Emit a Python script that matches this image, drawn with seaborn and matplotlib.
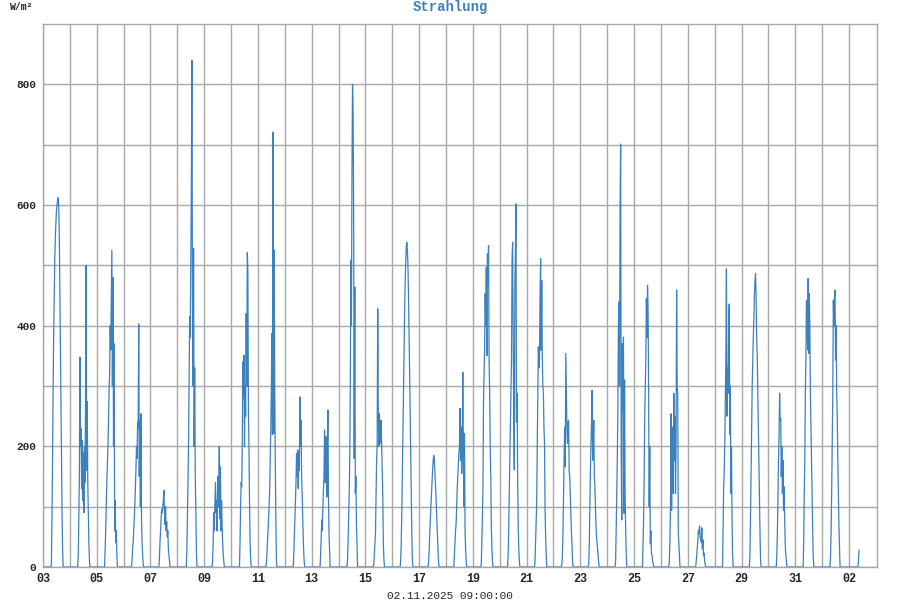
import pandas as pd
import matplotlib
matplotlib.use("Agg")
import matplotlib.pyplot as plt
import matplotlib.dates as mdates
import seaborn as sns

# radiation in W/m2, half-hourly readings starting 07:00 each day (0 during the night)
oct03 = [0, 5, 80, 170, 290, 380, 450, 510, 545, 570, 590, 600, 607, 612, 600, 560, 470, 380, 290, 190, 90, 30, 0]
oct04 = [0, 20, 90, 150, 348, 200, 230, 130, 210, 110, 190, 90, 200, 140, 270, 500, 160, 274, 140, 90, 40, 10, 0]
oct05 = [0, 30, 60, 100, 140, 170, 200, 240, 290, 320, 400, 360, 440, 525, 300, 480, 200, 370, 60, 110, 40, 60, 20, 0]
oct06 = [0, 10, 30, 40, 60, 80, 100, 130, 160, 200, 180, 240, 230, 403, 150, 243, 100, 254, 80, 40, 20, 5, 0]
oct07 = [0, 0, 15, 40, 60, 80, 95, 90, 100, 110, 127, 90, 70, 100, 60, 75, 50, 60, 30, 20, 10, 0]
oct08 = [0, 0, 0, 30, 80, 140, 200, 300, 415, 380, 500, 620, 840, 450, 300, 528, 200, 330, 150, 100, 30, 0]
oct09 = [0, 10, 40, 90, 60, 100, 140, 90, 110, 60, 150, 100, 130, 200, 80, 166, 60, 110, 70, 40, 20, 10, 0]
oct10 = [0, 0, 40, 100, 140, 133, 200, 340, 280, 351, 200, 300, 250, 420, 300, 521, 492, 260, 194, 105, 40, 12, 0]
oct11 = [0, 5, 20, 40, 60, 80, 100, 130, 180, 232, 300, 387, 220, 721, 221, 525, 300, 177, 80, 12, 0]
oct12 = [0, 0, 20, 50, 80, 110, 140, 188, 150, 194, 130, 190, 160, 282, 200, 243, 150, 122, 80, 45, 20, 5, 0]
oct13 = [0, 0, 20, 50, 78, 60, 100, 127, 150, 227, 140, 199, 216, 116, 200, 260, 120, 56, 30, 0]
oct14 = [0, 0, 10, 40, 80, 120, 177, 300, 508, 400, 652, 800, 757, 585, 180, 464, 122, 150, 70, 39, 0]
oct15 = [0, 5, 20, 40, 56, 120, 177, 200, 428, 260, 200, 254, 205, 220, 243, 205, 160, 122, 39, 15, 0]
oct16 = [0, 10, 40, 90, 150, 220, 290, 360, 420, 470, 505, 530, 538, 525, 500, 450, 390, 320, 250, 180, 110, 50, 10, 0]
oct17 = [0, 0, 0, 10, 30, 55, 80, 100, 120, 140, 160, 175, 185, 180, 160, 140, 120, 95, 70, 45, 20, 5, 0]
oct18 = [0, 20, 40, 60, 70, 100, 130, 150, 170, 188, 200, 263, 177, 232, 155, 200, 323, 199, 100, 221, 60, 30, 10, 0]
oct19 = [0, 5, 40, 80, 130, 276, 320, 365, 453, 400, 497, 350, 519, 470, 533, 343, 288, 200, 150, 67, 30, 10, 0]
oct20 = [0, 20, 60, 122, 180, 232, 280, 343, 508, 538, 398, 250, 161, 464, 520, 602, 240, 288, 150, 67, 30, 10, 0]
oct21 = [0, 10, 40, 70, 105, 200, 276, 365, 330, 343, 450, 511, 359, 475, 350, 300, 288, 230, 205, 94, 50, 20, 0]
oct22 = [0, 5, 20, 60, 122, 180, 232, 166, 354, 288, 230, 205, 240, 243, 160, 150, 120, 94, 60, 39, 10, 0]
oct23 = [0, 5, 40, 100, 160, 205, 238, 293, 177, 200, 243, 150, 133, 100, 67, 50, 39, 30, 15, 5, 0]
oct24 = [0, 10, 60, 122, 177, 260, 398, 439, 300, 597, 701, 188, 78, 370, 260, 381, 89, 310, 120, 60, 20, 0]
oct25 = [0, 0, 40, 78, 150, 250, 300, 343, 445, 380, 467, 431, 288, 100, 200, 39, 60, 23, 20, 10, 6, 0]
oct26 = [0, 10, 39, 100, 254, 94, 180, 232, 122, 288, 177, 250, 122, 199, 459, 300, 288, 56, 39, 20, 0]
oct27 = [0, 10, 20, 34, 45, 61, 55, 68, 50, 45, 40, 65, 30, 45, 20, 23, 10, 5, 0]
oct28 = [0, 60, 133, 155, 200, 276, 350, 494, 250, 330, 288, 400, 436, 220, 300, 122, 199, 80, 20, 0]
oct29 = [0, 20, 80, 150, 230, 300, 343, 380, 409, 450, 475, 486, 450, 380, 354, 288, 230, 177, 110, 55, 10, 0]
oct30 = [0, 20, 56, 110, 177, 220, 288, 243, 246, 150, 200, 122, 177, 94, 133, 80, 39, 20, 12, 0]
oct31 = [0, 40, 120, 177, 288, 350, 442, 426, 360, 478, 354, 453, 400, 288, 230, 177, 120, 67, 20, 0]
nov01 = [0, 20, 60, 122, 200, 288, 442, 400, 447, 459, 343, 400, 288, 250, 177, 120, 67, 30, 0]
nov02 = [0, 0, 0, 15, 28]

day_values = [oct03, oct04, oct05, oct06, oct07, oct08, oct09, oct10, oct11, oct12,
              oct13, oct14, oct15, oct16, oct17, oct18, oct19, oct20, oct21, oct22,
              oct23, oct24, oct25, oct26, oct27, oct28, oct29, oct30, oct31, nov01, nov02]
day_dates = pd.date_range("2025-10-03", "2025-11-02", freq="D")

# build the time series
rows = [(pd.Timestamp("2025-10-03 00:00"), 0)]
for date, vals in zip(day_dates, day_values):
    for i, v in enumerate(vals):
        rows.append((date + pd.Timedelta(hours=7, minutes=30 * i), v))
df = pd.DataFrame(rows, columns=["time", "value"])

sns.set_style("white")
plt.rcParams["font.family"] = ["Liberation Mono", "DejaVu Sans Mono"]
plt.rcParams["font.weight"] = "bold"

fig = plt.figure(figsize=(9, 6), dpi=100)
ax = fig.add_axes([43 / 900, 33 / 600, 834 / 900, 543 / 600])

sns.lineplot(data=df, x="time", y="value", ax=ax, color="#3d80be",
             linewidth=0.9, estimator=None)

# axes limits and ticks
ax.set_xlim(pd.Timestamp("2025-10-03 00:00"), pd.Timestamp("2025-11-03 01:00"))
ax.set_ylim(0, 900)
ax.set_xticks(pd.date_range("2025-10-03", "2025-11-02", freq="2D"))
ax.set_xticks(day_dates, minor=True)
ax.xaxis.set_major_formatter(mdates.DateFormatter("%d"))
ax.set_yticks([0, 200, 400, 600, 800])
ax.set_yticks([100, 300, 500, 700], minor=True)
ax.grid(True, which="both", color="#a8a8a8", linewidth=1)
ax.tick_params(axis="x", which="both", length=0, labelsize=8.5, pad=4)
ax.tick_params(axis="y", which="both", length=0, labelsize=8, pad=5)
for lbl in ax.get_xticklabels() + ax.get_yticklabels():
    lbl.set_fontweight("bold")
for s in ax.spines.values():
    s.set_color("#a8a8a8")
    s.set_linewidth(1)
ax.set_xlabel("")
ax.set_ylabel("")

fig.text(0.5, 1 - 7 / 600, "Strahlung", ha="center", va="center",
         color="#3d80be", fontsize=10, fontweight="bold")
fig.text(10 / 900, 1 - 7 / 600, "W/m²", ha="left", va="center", fontsize=7, fontweight="bold")
fig.text(0.5, 1 - 596 / 600, "02.11.2025 09:00:00", ha="center", va="center",
         fontsize=8, fontweight="normal")

fig.savefig("out.png", dpi=100)
plt.close()
